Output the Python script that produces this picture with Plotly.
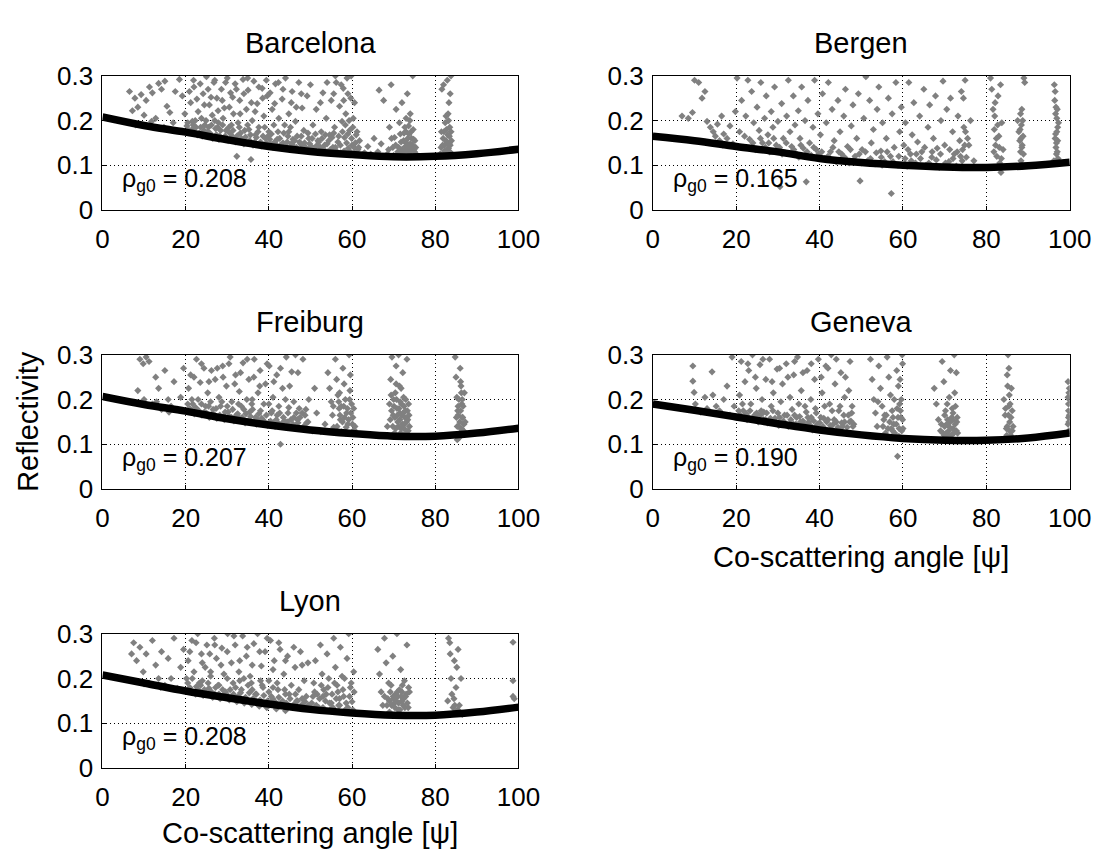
import plotly.graph_objects as go

# ---------------- data ----------------
cities = ["Barcelona", "Bergen", "Freiburg", "Geneva", "Lyon"]
rho_g0 = [0.208, 0.165, 0.207, 0.190, 0.208]

curve_angles = [0, 10, 20, 30, 40, 50, 60, 70, 80, 90, 100]
curve_barcelona = [0.208, 0.189, 0.174, 0.157, 0.142, 0.131, 0.124, 0.119, 0.120, 0.126, 0.136]
curve_bergen = [0.165, 0.155, 0.142, 0.130, 0.115, 0.106, 0.100, 0.096, 0.095, 0.099, 0.107]
curve_freiburg = [0.207, 0.189, 0.174, 0.157, 0.143, 0.132, 0.124, 0.118, 0.118, 0.125, 0.136]
curve_geneva = [0.190, 0.176, 0.161, 0.146, 0.132, 0.121, 0.113, 0.109, 0.109, 0.114, 0.125]
curve_lyon = [0.208, 0.190, 0.172, 0.157, 0.143, 0.131, 0.123, 0.118, 0.118, 0.125, 0.136]

pts_barcelona = [
    (6.5,0.265),(7.2,0.222),(7.8,0.25),(8.5,0.23),(9.3,0.258),(10.0,0.212),(10.5,0.245),(11.3,0.275),(12.0,0.262),(12.8,0.205),
    (13.5,0.283),(14.2,0.27),(15.0,0.288),(15.5,0.232),(16.2,0.218),(17.0,0.195),(17.5,0.265),(8.0,0.19),(11.8,0.198),(14.8,0.185),
    (18.5,0.292),(19.2,0.255),(19.8,0.215),(20.3,0.188),(20.8,0.178),(21.2,0.24),(21.6,0.198),(22.0,0.275),(22.5,0.185),(23.0,0.22),
    (23.3,0.172),(23.8,0.205),(24.2,0.26),(24.6,0.19),(25.0,0.298),(25.3,0.175),(25.7,0.235),(26.0,0.168),(26.4,0.212),(26.8,0.285),
    (27.2,0.182),(27.5,0.25),(27.9,0.195),(28.2,0.165),(28.6,0.27),(29.0,0.205),(29.3,0.228),(29.7,0.178),(30.0,0.295),(30.4,0.185),
    (30.8,0.262),(31.2,0.165),(31.5,0.215),(31.9,0.282),(32.3,0.12),(32.6,0.195),(33.0,0.245),(33.4,0.16),(33.8,0.292),(34.2,0.178),
    (34.6,0.225),(35.0,0.268),(35.4,0.155),(35.7,0.113),(36.0,0.2),(36.4,0.288),(36.8,0.168),(37.2,0.238),(37.6,0.185),(38.0,0.152),
    (38.4,0.272),(38.8,0.21),(39.2,0.16),(39.6,0.255),(40.0,0.175),(40.4,0.148),(40.8,0.225),(41.2,0.19),(41.6,0.282),(42.0,0.158),
    (42.4,0.205),(42.8,0.145),(43.2,0.248),(43.6,0.172),(44.0,0.295),(44.4,0.152),(44.8,0.215),(45.2,0.185),(45.6,0.265),(46.0,0.142),
    (46.4,0.198),(46.8,0.165),(47.2,0.285),(47.6,0.148),(48.0,0.228),(48.4,0.178),(48.8,0.14),(49.2,0.255),(49.6,0.16),
    (22.8,0.168),(24.0,0.165),(26.5,0.16),(28.0,0.158),(30.2,0.155),(32.0,0.152),(34.0,0.148),(36.2,0.145),(38.2,0.143),(41.0,0.14),
    (43.0,0.138),(45.0,0.137),(47.0,0.135),(21.5,0.18),(25.5,0.185),(29.5,0.165),(33.2,0.172),(37.0,0.162),(39.8,0.165),(42.2,0.175),
    (44.6,0.165),(46.2,0.155),(48.6,0.15),(27.0,0.2),(31.0,0.19),(35.2,0.18),(39.0,0.185),(43.8,0.19),
    (50.2,0.142),(50.6,0.19),(51.0,0.135),(51.4,0.225),(51.8,0.155),(52.2,0.132),(52.6,0.175),(53.0,0.262),(53.4,0.145),(53.8,0.205),
    (54.2,0.13),(54.6,0.168),(55.0,0.245),(55.4,0.14),(55.8,0.185),(56.2,0.285),(56.6,0.152),(57.0,0.232),(57.3,0.128),(57.6,0.198),
    (57.9,0.272),(58.2,0.162),(58.5,0.215),(58.8,0.295),(59.1,0.138),(59.4,0.178),(59.7,0.25),(60.0,0.145),(60.3,0.205),(60.6,0.128),
    (61.0,0.168),(61.4,0.135),(61.8,0.155),(56.0,0.3),(58.0,0.245),(59.0,0.26),
    (63.0,0.128),(63.8,0.142),(64.5,0.125),(65.3,0.16),(66.2,0.13),(67.0,0.148),(67.6,0.245),(66.5,0.268),
    (68.5,0.125),(69.0,0.185),(69.4,0.28),(69.8,0.14),(70.2,0.162),(70.6,0.225),(71.0,0.13),(71.4,0.195),(71.8,0.152),(72.2,0.125),
    (72.5,0.172),(72.8,0.142),(73.0,0.205),(73.2,0.135),(73.4,0.16),(73.6,0.188),(73.8,0.128),(74.0,0.148),(74.2,0.175),(74.4,0.138),
    (74.6,0.3),(74.8,0.158),(75.0,0.13),(72.0,0.24),(73.3,0.26),(75.3,0.14),(70.0,0.122),
    (81.2,0.125),(81.5,0.175),(81.8,0.145),(82.0,0.28),(82.2,0.132),(82.4,0.195),(82.6,0.155),(82.8,0.125),(83.0,0.168),(83.1,0.215),
    (83.2,0.138),(83.3,0.24),(83.4,0.15),(83.5,0.185),(83.6,0.26),(83.7,0.128),(83.8,0.3),(82.9,0.29),(81.6,0.27),
]
pts_barcelona_dense = [
    (20.5,0.195),(21.8,0.19),(22.3,0.2),(23.6,0.185),(24.4,0.178),(24.9,0.2),(25.8,0.172),(26.2,0.19),(27.4,0.168),(27.7,0.185),
    (28.4,0.178),(28.9,0.19),(29.8,0.16),(30.6,0.172),(31.4,0.178),(31.8,0.158),(32.4,0.166),(32.9,0.185),(33.6,0.155),(34.4,0.163),
    (34.9,0.19),(35.6,0.168),(36.6,0.152),(37.4,0.175),(37.8,0.148),(38.6,0.165),(39.4,0.15),(40.2,0.158),(40.6,0.17),(41.4,0.152),
    (41.8,0.145),(42.6,0.16),(43.4,0.15),(44.2,0.142),(44.8,0.175),(45.4,0.148),(45.8,0.158),(46.6,0.14),(47.4,0.152),(47.8,0.165),
    (48.2,0.145),(49.0,0.138),(49.4,0.172),(49.8,0.148),
    (50.4,0.16),(50.8,0.138),(51.2,0.17),(51.6,0.145),(52.0,0.152),(52.4,0.14),(52.8,0.16),(53.2,0.135),(53.6,0.168),(54.0,0.148),
    (54.4,0.155),(54.8,0.135),(55.2,0.162),(55.6,0.172),(56.0,0.14),(56.4,0.13),(56.8,0.165),(57.2,0.145),(57.7,0.175),(58.1,0.132),
    (58.4,0.19),(58.7,0.15),(59.0,0.17),(59.3,0.2),(59.6,0.13),(59.9,0.16),(60.2,0.185),(60.5,0.14),(60.8,0.15),(61.2,0.175),(61.6,0.14),
    (71.2,0.14),(71.6,0.17),(72.0,0.135),(72.4,0.155),(72.7,0.185),(72.9,0.13),(73.1,0.15),(73.5,0.14),(73.7,0.17),(73.9,0.2),
    (74.1,0.135),(74.3,0.16),(74.5,0.145),(74.7,0.18),(74.9,0.135),(75.1,0.155),(73.0,0.175),(74.0,0.215),(70.5,0.145),(69.5,0.16),
    (68.8,0.135),(75.4,0.125),(72.6,0.128),(71.5,0.128),
    (81.4,0.14),(81.9,0.16),(82.1,0.175),(82.3,0.145),(82.5,0.13),(82.7,0.18),(82.9,0.15),(83.0,0.135),(83.2,0.2),(83.4,0.165),
    (83.6,0.145),(83.8,0.175),(82.6,0.21),(83.5,0.13),(83.9,0.155),
]
pts_barcelona_upper = [
    (20.9,0.265),(21.9,0.29),(22.7,0.248),(23.5,0.282),(24.5,0.235),(25.4,0.27),(26.1,0.252),(27.0,0.29),(27.8,0.222),(28.8,0.245),
    (29.6,0.285),(30.5,0.23),(31.3,0.252),(32.2,0.27),(33.1,0.215),(34.0,0.26),(34.9,0.295),(35.8,0.24),(36.7,0.22),(37.6,0.275),
    (38.5,0.25),(39.4,0.29),(40.3,0.262),(41.4,0.238),(42.3,0.285),(43.4,0.27),(45.4,0.24),(46.6,0.23),(47.8,0.26),(50.0,0.28),
    (52.4,0.24),(54.0,0.285),(55.6,0.26),(57.4,0.28),(59.8,0.3),(60.6,0.24),
]

pts_bergen = [
    (7.0,0.21),(8.5,0.205),(9.5,0.218),(10.0,0.29),(11.0,0.285),(11.8,0.25),(12.5,0.265),(13.0,0.198),(13.8,0.185),(14.5,0.175),
    (15.0,0.165),(15.5,0.192),(16.0,0.155),(16.5,0.21),(17.0,0.17),(17.8,0.16),(18.5,0.188),(19.2,0.148),(19.8,0.22),(16.8,0.145),
    (20.2,0.295),(20.8,0.175),(21.3,0.245),(21.8,0.14),(22.3,0.21),(22.8,0.29),(23.2,0.158),(23.7,0.265),(24.2,0.195),(24.6,0.135),
    (25.0,0.23),(25.5,0.178),(25.9,0.285),(26.3,0.15),(26.8,0.205),(27.2,0.255),(27.6,0.168),(28.0,0.13),(28.4,0.22),(28.8,0.185),
    (29.2,0.275),(29.6,0.145),(30.0,0.198),(30.5,0.052),(30.9,0.238),(31.3,0.16),(31.7,0.128),(32.1,0.21),(32.5,0.29),(32.9,0.175),
    (33.3,0.142),(33.7,0.255),(34.1,0.19),(34.5,0.125),(34.9,0.222),(35.3,0.16),(35.7,0.275),(36.1,0.138),(36.5,0.2),(36.8,0.063),
    (37.2,0.245),(37.6,0.15),(38.0,0.122),(38.4,0.185),(38.8,0.29),(39.2,0.135),(39.6,0.215),(27.0,0.14),(31.0,0.125),(35.0,0.118),
    (40.2,0.168),(40.7,0.26),(41.2,0.115),(41.6,0.195),(42.1,0.285),(42.6,0.13),(43.0,0.225),(43.5,0.155),(44.0,0.108),(44.4,0.245),
    (44.9,0.175),(45.3,0.125),(45.8,0.21),(46.2,0.27),(46.7,0.142),(47.1,0.105),(47.6,0.188),(48.0,0.235),(48.5,0.12),(48.9,0.16),
    (49.3,0.26),(49.7,0.065),(50.2,0.135),(50.6,0.205),(51.1,0.298),(51.5,0.11),(52.0,0.245),(52.4,0.15),(52.9,0.18),(53.3,0.103),
    (53.8,0.225),(54.2,0.275),(54.7,0.132),(55.1,0.195),(55.6,0.108),(56.0,0.16),(56.5,0.25),(57.0,0.12),(57.2,0.037),(57.4,0.215),
    (57.9,0.14),(58.3,0.285),(58.8,0.1),(59.2,0.175),(59.6,0.23),(45.0,0.112),(50.0,0.105),(55.0,0.1),
    (60.2,0.145),(60.6,0.195),(61.0,0.098),(61.4,0.285),(61.8,0.125),(62.2,0.168),(62.6,0.24),(63.0,0.105),(63.5,0.152),(64.0,0.21),
    (64.5,0.13),(65.0,0.27),(65.5,0.1),(66.0,0.185),(66.4,0.235),(66.9,0.118),(67.3,0.16),(67.8,0.255),(68.2,0.138),(68.7,0.095),
    (69.1,0.2),(69.6,0.288),(70.0,0.145),(70.5,0.225),(71.0,0.108),(71.4,0.25),(71.9,0.175),(72.3,0.125),(72.8,0.098),(73.2,0.21),
    (73.6,0.155),(74.0,0.265),(74.3,0.135),(74.6,0.185),(74.9,0.29),(75.2,0.118),(75.5,0.16),(75.8,0.145),(76.2,0.2),(77.0,0.11),
    (81.0,0.295),(81.3,0.27),(81.6,0.225),(81.9,0.18),(82.2,0.145),(82.5,0.12),(82.8,0.255),(83.0,0.165),(83.2,0.105),(83.5,0.084),
    (83.7,0.195),(84.0,0.135),(82.0,0.21),(83.4,0.28),
    (87.5,0.2),(87.8,0.175),(88.0,0.155),(88.2,0.13),(88.4,0.19),(88.6,0.145),(88.8,0.165),(89.0,0.295),(89.2,0.285),(88.5,0.225),(88.3,0.11),
    (96.3,0.28),(96.5,0.265),(96.7,0.23),(96.9,0.205),(97.1,0.185),(96.6,0.17),(96.8,0.15),(97.0,0.13),(97.2,0.115),(96.4,0.245),
    (97.3,0.195),(96.2,0.11),
]
pts_bergen_dense = [
    (88.1,0.18),(88.3,0.16),(88.5,0.14),(88.7,0.2),(88.9,0.125),(88.2,0.215),(96.5,0.16),(96.7,0.14),(96.9,0.175),(97.1,0.155),
    (96.6,0.215),(97.0,0.225),(96.8,0.125),(82.4,0.16),(82.7,0.19),(83.1,0.14),(83.6,0.115),(82.1,0.24),(81.8,0.13),
    (60.5,0.115),(61.2,0.135),(62.0,0.11),(63.2,0.125),(64.2,0.115),(65.2,0.14),(66.2,0.105),(67.0,0.13),(68.0,0.112),(69.0,0.125),
    (70.2,0.105),(71.2,0.135),(72.0,0.115),(73.0,0.13),(74.2,0.11),(74.8,0.145),(75.0,0.175),(74.5,0.25),(73.8,0.12),
    (40.5,0.13),(42.0,0.12),(43.2,0.14),(44.6,0.13),(46.0,0.118),(47.4,0.135),(48.2,0.112),(49.5,0.125),(51.0,0.13),(52.2,0.115),
    (53.6,0.128),(54.8,0.118),(56.2,0.13),(57.6,0.108),(59.0,0.12),
    (22.0,0.165),(24.0,0.15),(25.8,0.16),(27.8,0.15),(29.0,0.16),(30.4,0.14),(32.0,0.15),(33.8,0.135),(35.5,0.145),(37.0,0.13),
    (38.6,0.14),(39.8,0.125),
]
pts_bergen_upper = []

pts_freiburg = [
    (8.5,0.22),(9.0,0.29),(9.8,0.28),(10.5,0.295),(11.2,0.285),(12.0,0.19),(12.8,0.25),(13.5,0.225),(14.2,0.178),(15.0,0.265),
    (15.8,0.2),(16.5,0.185),(17.2,0.24),(18.0,0.178),(18.8,0.205),(19.5,0.27),(10.0,0.2),(13.0,0.195),(16.0,0.172),
    (20.2,0.175),(20.7,0.225),(21.2,0.255),(21.7,0.19),(22.1,0.168),(22.6,0.29),(23.0,0.2),(23.5,0.238),(23.9,0.165),(24.4,0.27),
    (24.8,0.185),(25.3,0.215),(25.7,0.16),(26.2,0.265),(26.6,0.178),(27.1,0.245),(27.5,0.158),(28.0,0.205),(28.4,0.185),(28.9,0.275),
    (29.3,0.155),(29.8,0.23),(30.2,0.172),(30.7,0.295),(31.1,0.195),(31.6,0.152),(32.0,0.255),(32.5,0.168),(32.9,0.218),(33.4,0.185),
    (33.8,0.282),(34.3,0.148),(34.7,0.2),(35.2,0.245),(35.6,0.162),(36.1,0.178),(36.5,0.29),(37.0,0.145),(37.4,0.215),(37.9,0.265),
    (38.3,0.158),(38.8,0.19),(39.2,0.235),(39.7,0.142),(40.1,0.275),(40.6,0.17),(41.0,0.205),(41.5,0.14),(41.9,0.255),(42.4,0.185),
    (42.8,0.1),(43.3,0.225),(43.7,0.152),(44.2,0.295),(44.6,0.17),(45.1,0.138),(45.5,0.262),(46.0,0.195),(46.4,0.3),(46.9,0.155),
    (47.3,0.18),(47.8,0.135),(48.2,0.29),(48.7,0.165),(49.1,0.148),(49.6,0.2),
    (21.0,0.18),(23.2,0.175),(25.0,0.17),(27.0,0.165),(29.0,0.162),(31.0,0.16),(33.0,0.158),(35.0,0.152),(37.2,0.155),(39.0,0.15),
    (41.2,0.148),(43.0,0.145),(45.0,0.14),(47.0,0.148),(26.0,0.195),(30.0,0.185),(34.0,0.178),(38.0,0.175),(42.0,0.165),(46.0,0.16),
    (48.0,0.17),(36.0,0.2),(40.0,0.19),(44.0,0.2),
    (50.5,0.13),(51.5,0.17),(52.5,0.128),(53.5,0.145),(51.0,0.225),
    (54.2,0.26),(54.6,0.225),(55.0,0.195),(55.3,0.165),(55.6,0.138),(56.0,0.29),(56.3,0.245),(56.6,0.21),(56.9,0.18),(57.2,0.155),
    (57.5,0.128),(57.8,0.27),(58.1,0.235),(58.4,0.2),(58.7,0.17),(59.0,0.145),(59.3,0.3),(59.6,0.255),(59.9,0.19),(60.2,0.16),
    (60.5,0.132),(58.0,0.185),(57.0,0.215),(59.5,0.22),(55.5,0.185),(60.0,0.125),
    (68.5,0.14),(69.0,0.19),(69.3,0.245),(69.6,0.295),(69.9,0.165),(70.2,0.125),(70.4,0.215),(70.6,0.275),(70.8,0.18),(71.0,0.15),
    (71.2,0.3),(71.4,0.23),(71.6,0.195),(71.8,0.135),(72.0,0.165),(72.2,0.26),(72.4,0.205),(72.6,0.145),(72.8,0.175),(73.0,0.125),
    (73.2,0.29),(73.4,0.155),(73.6,0.19),(73.8,0.14),(70.0,0.2),(71.5,0.17),(72.5,0.185),
    (84.8,0.295),(85.0,0.25),(85.2,0.205),(85.4,0.175),(85.6,0.14),(85.8,0.115),(86.0,0.27),(86.2,0.23),(86.4,0.19),(86.6,0.16),
    (86.8,0.13),(87.0,0.215),(87.2,0.15),(85.5,0.185),(86.5,0.2),(86.1,0.24),(85.3,0.11),
]
pts_freiburg_dense = [
    (20.5,0.19),(21.5,0.2),(22.4,0.182),(23.8,0.19),(24.5,0.172),(25.5,0.185),(26.4,0.168),(27.3,0.18),(28.2,0.165),(28.7,0.195),
    (29.5,0.172),(30.5,0.162),(31.3,0.178),(32.2,0.165),(32.7,0.19),(33.6,0.16),(34.5,0.168),(35.4,0.172),(35.9,0.19),(36.8,0.16),
    (37.6,0.168),(38.5,0.155),(39.4,0.165),(40.4,0.152),(40.8,0.175),(41.8,0.155),(42.2,0.148),(42.6,0.17),(43.5,0.16),(44.4,0.15),
    (44.8,0.182),(45.3,0.155),(45.8,0.145),(46.6,0.17),(47.5,0.16),(48.4,0.14),(48.9,0.178),(49.4,0.15),
    (56.4,0.14),(57.1,0.165),(57.7,0.15),(58.2,0.16),(58.6,0.138),(58.9,0.18),(59.2,0.155),(59.7,0.17),(60.1,0.145),(60.4,0.18),
    (60.7,0.14),(58.5,0.125),(59.4,0.2),(56.8,0.195),(57.4,0.185),(60.8,0.128),
    (69.2,0.155),(69.5,0.175),(69.8,0.14),(70.1,0.185),(70.3,0.16),(70.5,0.135),(70.7,0.2),(70.9,0.165),(71.1,0.14),(71.3,0.18),
    (71.5,0.155),(71.7,0.125),(71.9,0.19),(72.1,0.145),(72.3,0.17),(72.5,0.135),(72.7,0.16),(72.9,0.2),(73.1,0.15),(73.3,0.175),
    (73.5,0.13),(73.7,0.165),(69.4,0.21),(70.6,0.235),(71.8,0.225),
    (85.1,0.16),(85.3,0.14),(85.5,0.165),(85.7,0.2),(85.9,0.15),(86.1,0.175),(86.3,0.135),(86.5,0.16),(86.7,0.185),(86.9,0.145),
    (85.9,0.125),(86.3,0.215),
]
pts_freiburg_upper = [
    (22.0,0.25),(23.8,0.28),(25.6,0.24),(27.6,0.27),(29.0,0.25),(30.4,0.28),(31.8,0.235),(33.2,0.26),(34.8,0.29),(36.4,0.25),
    (37.8,0.23),(39.6,0.28),(41.2,0.24),(42.8,0.27),(45.0,0.23),(47.0,0.26),
]

pts_geneva = [
    (9.6,0.275),(9.6,0.241),(9.9,0.216),(10.2,0.19),(11.5,0.172),(12.5,0.205),(14.2,0.262),(14.4,0.21),(15.2,0.185),(16.0,0.175),
    (17.0,0.2),(17.8,0.23),(18.5,0.165),(19.0,0.295),(19.5,0.185),(13.0,0.18),
    (20.3,0.16),(20.8,0.21),(21.2,0.285),(21.7,0.175),(22.1,0.24),(22.6,0.155),(23.0,0.265),(23.5,0.19),(23.9,0.3),(24.4,0.165),
    (24.8,0.225),(25.3,0.15),(25.7,0.278),(26.2,0.2),(26.6,0.172),(27.1,0.245),(27.5,0.148),(28.0,0.29),(28.4,0.185),(28.9,0.215),
    (29.3,0.158),(29.8,0.268),(30.2,0.142),(30.7,0.195),(31.1,0.235),(31.6,0.165),(32.0,0.28),(32.5,0.14),(32.9,0.205),(33.4,0.178),
    (33.8,0.255),(34.3,0.145),(34.7,0.295),(35.2,0.162),(35.6,0.22),(36.1,0.138),(36.5,0.185),(37.0,0.265),(37.4,0.15),(37.9,0.2),
    (38.3,0.132),(38.8,0.245),(39.2,0.17),(39.7,0.29),(40.1,0.135),(40.6,0.215),(41.0,0.158),(41.5,0.275),(41.9,0.13),(42.4,0.19),
    (42.8,0.3),(43.3,0.145),(43.7,0.235),(44.2,0.128),(44.6,0.175),(45.1,0.26),(45.5,0.14),(46.0,0.205),(46.4,0.125),(46.9,0.165),
    (47.3,0.285),(47.8,0.185),(47.5,0.152),(47.0,0.22),
    (21.0,0.165),(23.0,0.16),(25.0,0.158),(27.0,0.155),(29.0,0.15),(31.0,0.148),(33.0,0.145),(35.0,0.142),(37.0,0.14),(39.0,0.138),
    (41.0,0.135),(43.0,0.132),(45.0,0.13),(26.0,0.175),(30.0,0.17),(34.0,0.165),(38.0,0.16),(42.0,0.155),(46.0,0.15),(36.0,0.152),
    (40.0,0.148),(44.0,0.15),(48.0,0.14),
    (52.2,0.29),(52.6,0.245),(53.0,0.2),(53.4,0.17),(53.8,0.14),(54.2,0.275),(54.6,0.225),(55.0,0.185),(55.4,0.155),(55.8,0.125),
    (56.2,0.295),(56.6,0.25),(57.0,0.21),(57.4,0.175),(57.8,0.145),(58.2,0.12),(58.5,0.265),(58.7,0.073),(58.9,0.23),(59.2,0.19),
    (59.5,0.16),(59.8,0.3),(60.0,0.135),(59.0,0.118),(57.5,0.13),(56.0,0.165),(54.0,0.195),
    (67.5,0.225),(68.0,0.19),(68.5,0.155),(69.0,0.13),(69.4,0.285),(69.8,0.24),(70.2,0.175),(70.5,0.145),(70.8,0.12),(71.1,0.205),
    (71.4,0.265),(71.7,0.16),(72.0,0.135),(72.3,0.3),(72.6,0.185),(72.9,0.15),(73.1,0.125),(70.0,0.165),(71.0,0.14),(72.0,0.17),
    (84.2,0.2),(84.5,0.165),(84.8,0.135),(85.0,0.255),(85.2,0.3),(85.4,0.185),(85.6,0.15),(85.8,0.12),(86.0,0.225),(86.2,0.175),
    (86.4,0.14),(85.5,0.21),
    (99.6,0.24),(99.8,0.215),(99.7,0.19),(99.9,0.165),(99.6,0.145),(99.8,0.13),(99.9,0.2),(99.7,0.175),
]
pts_geneva_dense = [
    (20.6,0.175),(21.5,0.19),(22.4,0.168),(23.3,0.175),(24.1,0.158),(24.9,0.17),(25.8,0.165),(26.5,0.155),(27.3,0.17),(28.2,0.158),
    (28.8,0.175),(29.6,0.148),(30.4,0.16),(31.3,0.152),(32.2,0.165),(33.1,0.155),(33.7,0.145),(34.5,0.16),(35.4,0.15),(36.3,0.145),
    (37.2,0.16),(37.8,0.142),(38.6,0.152),(39.5,0.145),(40.3,0.16),(40.8,0.14),(41.7,0.15),(42.6,0.142),(43.5,0.155),(44.4,0.138),
    (45.3,0.148),(45.8,0.165),(46.6,0.138),(47.2,0.15),(47.7,0.17),(48.2,0.145),(44.9,0.185),(43.0,0.175),(41.2,0.185),(39.0,0.18),
    (36.8,0.172),(35.0,0.19),
    (55.2,0.14),(55.6,0.165),(56.4,0.135),(56.8,0.15),(57.2,0.135),(57.6,0.16),(58.0,0.125),(58.4,0.145),(58.8,0.16),(59.1,0.135),
    (59.4,0.175),(59.7,0.13),(59.9,0.155),(59.6,0.2),(58.6,0.18),(57.9,0.2),(59.3,0.245),(59.9,0.28),
    (69.2,0.145),(69.6,0.125),(70.0,0.14),(70.4,0.125),(70.7,0.155),(71.0,0.13),(71.3,0.15),(71.6,0.12),(71.9,0.155),(72.2,0.125),
    (72.5,0.145),(72.8,0.13),(73.0,0.16),(70.6,0.19),(71.8,0.18),(72.4,0.215),(72.8,0.26),(69.9,0.12),
    (84.6,0.18),(85.0,0.14),(85.3,0.165),(85.6,0.13),(85.9,0.16),(86.2,0.13),(84.9,0.12),(85.7,0.19),(85.1,0.23),(85.4,0.27),
    (99.8,0.15),(99.6,0.205),(99.9,0.225),(99.7,0.16),
]
pts_geneva_upper = [
    (22.8,0.28),(24.6,0.25),(26.4,0.29),(28.6,0.24),(30.4,0.27),(32.4,0.25),(34.0,0.285),(36.0,0.26),(38.0,0.28),(40.4,0.25),
    (42.0,0.27),(44.0,0.29),(46.2,0.25),
]

pts_lyon = [
    (7.0,0.255),(7.5,0.28),(8.2,0.24),(9.0,0.27),(9.8,0.215),(10.5,0.255),(11.2,0.19),(12.0,0.285),(12.8,0.23),(13.5,0.2),
    (14.2,0.26),(15.0,0.185),(15.8,0.245),(16.5,0.2),(17.2,0.29),(18.0,0.178),(18.8,0.225),(19.5,0.265),(10.0,0.188),(14.0,0.18),
    (20.2,0.2),(20.6,0.24),(21.1,0.172),(21.5,0.285),(22.0,0.215),(22.4,0.165),(22.9,0.3),(23.3,0.19),(23.8,0.255),(24.2,0.162),
    (24.7,0.225),(25.1,0.275),(25.6,0.178),(26.0,0.205),(26.5,0.158),(26.9,0.29),(27.4,0.245),(27.8,0.185),(28.3,0.155),(28.7,0.268),
    (29.2,0.21),(29.6,0.17),(30.1,0.3),(30.5,0.152),(31.0,0.235),(31.4,0.19),(31.9,0.275),(32.3,0.148),(32.8,0.215),(33.2,0.168),
    (33.7,0.295),(34.1,0.145),(34.6,0.25),(35.0,0.185),(35.5,0.205),(35.9,0.142),(36.4,0.278),(36.8,0.165),(37.3,0.3),(37.7,0.138),
    (38.2,0.228),(38.6,0.18),(39.1,0.26),(39.5,0.135),(40.0,0.195),(40.4,0.285),(40.9,0.155),(41.3,0.24),(41.8,0.132),(42.2,0.175),
    (42.7,0.265),(43.1,0.145),(43.6,0.21),(44.0,0.128),(44.5,0.25),(44.9,0.165),(45.4,0.185),(45.8,0.135),(46.3,0.225),(46.7,0.15),
    (47.2,0.175),(47.6,0.26),(48.1,0.14),(48.5,0.195),(49.0,0.16),(49.4,0.235),
    (21.0,0.18),(23.0,0.175),(25.0,0.168),(27.0,0.165),(29.0,0.16),(31.0,0.157),(33.0,0.155),(35.0,0.15),(37.0,0.148),(39.0,0.145),
    (41.0,0.143),(43.0,0.14),(45.0,0.138),(47.0,0.135),(24.0,0.195),(28.0,0.185),(32.0,0.18),(36.0,0.175),(40.0,0.17),(44.0,0.165),
    (48.0,0.155),(34.0,0.2),(38.0,0.195),(42.0,0.19),(30.0,0.2),(26.0,0.215),
    (50.3,0.145),(50.8,0.19),(51.2,0.24),(51.6,0.165),(52.0,0.135),(52.4,0.275),(52.8,0.21),(53.2,0.175),(53.6,0.15),(54.0,0.255),
    (54.4,0.2),(54.8,0.13),(55.2,0.165),(55.6,0.29),(56.0,0.225),(56.4,0.185),(56.8,0.14),(57.2,0.27),(57.6,0.205),(58.0,0.16),
    (58.4,0.13),(58.8,0.245),(59.2,0.3),(59.6,0.18),(60.0,0.148),(60.4,0.215),(55.0,0.145),(57.0,0.155),(59.0,0.135),(53.0,0.16),
    (66.2,0.265),(66.6,0.21),(67.0,0.17),(67.4,0.14),(67.8,0.29),(68.2,0.235),(68.6,0.155),(69.0,0.125),(69.4,0.185),(69.8,0.25),
    (70.2,0.145),(70.5,0.165),(70.8,0.3),(71.1,0.13),(71.4,0.175),(71.7,0.22),(72.0,0.15),(72.3,0.14),(72.6,0.195),(72.9,0.16),
    (73.2,0.275),(73.5,0.135),(73.8,0.17),(70.0,0.155),(71.0,0.16),(72.0,0.17),(69.0,0.15),
    (83.2,0.29),(83.5,0.28),(83.8,0.2),(84.0,0.165),(84.3,0.135),(84.6,0.24),(84.9,0.125),(85.2,0.225),(85.5,0.265),(85.8,0.14),
    (86.2,0.2),(86.5,0.12),(83.0,0.15),(84.5,0.155),
    (98.7,0.281),(98.7,0.195),(98.7,0.16),(99.0,0.155),
]
pts_lyon_dense = [
    (20.5,0.19),(21.6,0.2),(22.6,0.182),(23.6,0.185),(24.5,0.175),(25.4,0.19),(26.2,0.17),(27.2,0.18),(28.0,0.165),(28.9,0.175),
    (29.8,0.165),(30.7,0.175),(31.5,0.165),(32.6,0.16),(33.4,0.175),(34.4,0.158),(35.3,0.168),(36.2,0.155),(37.0,0.165),(37.9,0.152),
    (38.8,0.162),(39.7,0.15),(40.6,0.16),(41.5,0.148),(42.4,0.158),(43.3,0.15),(44.2,0.145),(45.1,0.155),(46.0,0.142),(46.9,0.15),
    (47.8,0.14),(48.7,0.148),(49.5,0.14),(41.0,0.18),(43.8,0.175),(46.4,0.165),(38.4,0.185),(35.8,0.19),(33.0,0.195),
    (50.6,0.16),(51.4,0.14),(52.2,0.155),(53.0,0.135),(53.8,0.165),(54.6,0.145),(55.4,0.135),(56.2,0.155),(57.0,0.14),(57.8,0.175),
    (58.6,0.145),(59.4,0.16),(60.2,0.13),(59.8,0.19),(58.2,0.2),(56.6,0.17),(55.8,0.19),(54.2,0.18),(52.6,0.185),(51.0,0.17),(60.5,0.17),
    (69.5,0.14),(69.9,0.16),(70.3,0.135),(70.6,0.15),(70.9,0.17),(71.2,0.145),(71.5,0.13),(71.8,0.16),(72.1,0.185),(72.4,0.155),
    (72.7,0.135),(73.0,0.165),(73.3,0.145),(73.6,0.18),(69.2,0.17),(68.8,0.19),(68.4,0.14),(67.8,0.16),
    (84.7,0.14),(85.4,0.13),(83.6,0.255),(85.0,0.18),
]
pts_lyon_upper = [
    (21.0,0.26),(22.5,0.28),(24.0,0.235),(25.8,0.255),(27.0,0.275),(28.5,0.23),(30.0,0.26),(31.6,0.295),(33.0,0.24),(34.8,0.27),
    (36.0,0.23),(37.8,0.26),(39.6,0.29),(41.0,0.22),(42.4,0.28),(44.0,0.24),(46.0,0.27),(48.0,0.23),
]

x_ticks = [0, 20, 40, 60, 80, 100]
y_ticks = [0, 0.1, 0.2, 0.3]
y_tick_text = ["0", "0.1", "0.2", "0.3"]

curves = [curve_barcelona, curve_bergen, curve_freiburg, curve_geneva, curve_lyon]
points = [pts_barcelona + pts_barcelona_dense + pts_barcelona_upper,
          pts_bergen + pts_bergen_dense + pts_bergen_upper,
          pts_freiburg + pts_freiburg_dense + pts_freiburg_upper,
          pts_geneva + pts_geneva_dense + pts_geneva_upper,
          pts_lyon + pts_lyon_dense + pts_lyon_upper]

# ---------------- layout geometry (pixels) ----------------
W, H = 1120, 866
col_x = [(98, 525), (663, 1091)]
row_y = [(63, 202), (352, 491), (641, 780)]
FONT = "Liberation Sans, Arial, Helvetica, sans-serif"

fig = go.Figure()
annotations = []

for i, name in enumerate(cities):
    r, c = divmod(i, 2)
    n = i + 1
    xa = "x" if n == 1 else f"x{n}"
    ya = "y" if n == 1 else f"y{n}"
    x0, x1 = col_x[c]
    y0, y1 = row_y[r]

    pts = points[i]
    fig.add_trace(go.Scatter(
        x=[p[0] for p in pts], y=[p[1] for p in pts],
        mode="markers", xaxis=xa, yaxis=ya, showlegend=False,
        marker=dict(symbol="diamond", size=5.5, color="#808080", line=dict(width=0)),
    ))
    fig.add_trace(go.Scatter(
        x=curve_angles, y=curves[i], mode="lines", xaxis=xa, yaxis=ya,
        showlegend=False, line=dict(color="black", width=7.5, shape="spline"),
    ))

    axis_common = dict(
        showline=True, mirror=True, linecolor="black", linewidth=1,
        showgrid=True, gridcolor="black", griddash="1px,3px", gridwidth=1,
        zeroline=False, ticks="inside", ticklen=4, tickcolor="black",
        tickfont=dict(family=FONT, size=26, color="black"),
    )
    fig.layout["xaxis" if n == 1 else f"xaxis{n}"] = dict(
        domain=[x0 / W, x1 / W], anchor=ya, range=[0, 100],
        tickvals=x_ticks, ticktext=[str(v) for v in x_ticks],
        ticklabelstandoff=6, **axis_common)
    fig.layout["yaxis" if n == 1 else f"yaxis{n}"] = dict(
        domain=[1 - y1 / H, 1 - y0 / H], anchor=xa, range=[0, 0.3],
        tickvals=y_ticks, ticktext=y_tick_text,
        ticklabelstandoff=3, **axis_common)

    # subplot title
    annotations.append(dict(
        text=name, xref="paper", yref="paper", x=(x0 + x1) / 2 / W,
        y=1 - (y0 - 34) / H, xanchor="center", yanchor="middle", showarrow=False,
        font=dict(family=FONT, size=29, color="black")))
    # rho annotation
    annotations.append(dict(
        text=f"ρ<sub>g0</sub> = {rho_g0[i]:.3f}", xref=xa, yref=ya, x=4.3, y=0.066,
        xanchor="left", yanchor="middle", showarrow=False,
        font=dict(family=FONT, size=25, color="black")))

# axis labels
annotations.append(dict(
    text="Reflectivity", xref="paper", yref="paper", x=22 / W, y=1 - 421 / H,
    textangle=-90, xanchor="center", yanchor="middle", showarrow=False,
    font=dict(family=FONT, size=29, color="black")))
for (cx, cy) in [((663 + 1091) / 2, 561), ((98 + 525) / 2, 847)]:
    annotations.append(dict(
        text="Co-scattering angle [ψ]", xref="paper", yref="paper", x=cx / W, y=1 - cy / H,
        xanchor="center", yanchor="middle", showarrow=False,
        font=dict(family=FONT, size=29, color="black")))

fig.update_layout(
    width=W, height=H, margin=dict(l=0, r=0, t=0, b=0),
    paper_bgcolor="white", plot_bgcolor="white",
    annotations=annotations, showlegend=False,
    font=dict(family=FONT, color="black"),
)

fig.write_html("out.html")
